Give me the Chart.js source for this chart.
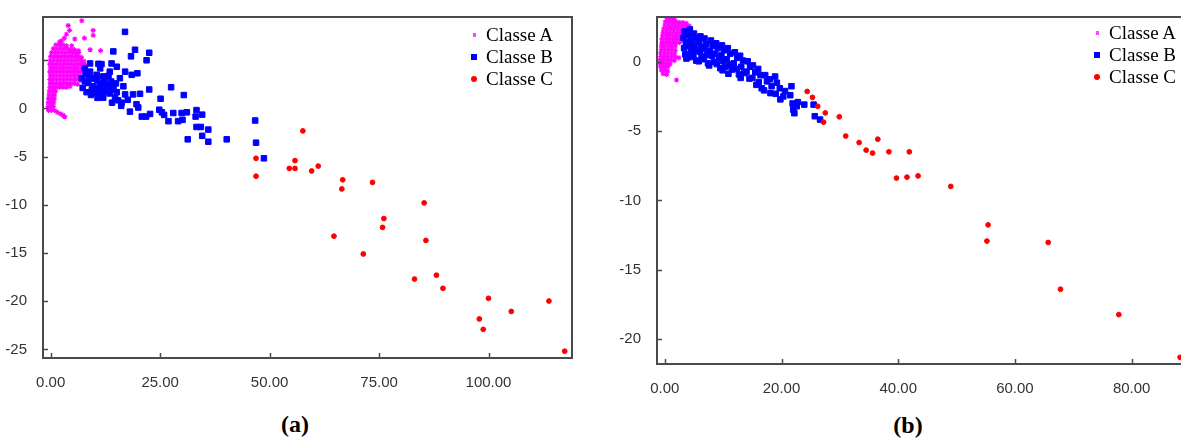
<!DOCTYPE html>
<html><head><meta charset="utf-8">
<script src="https://cdn.jsdelivr.net/npm/chart.js@4.4.1/dist/chart.umd.min.js"></script>
<style>
html,body{margin:0;padding:0;background:#fff;width:1181px;height:439px;overflow:hidden;position:relative;}
canvas{position:absolute;top:0;}
#ca{left:0;} #cb{left:600px;}
.leg{position:absolute;font-family:"Liberation Serif","Times New Roman",serif;font-size:19px;line-height:22px;color:#000;white-space:nowrap;}
.mk{position:absolute;}
.cap{position:absolute;font-family:"Liberation Serif","Times New Roman",serif;font-weight:bold;font-size:24px;line-height:24px;transform:translate(-50%,-50%);color:#000;}
</style>
</head>
<body>
<canvas id="ca" width="600" height="400"></canvas>
<canvas id="cb" width="600" height="400"></canvas>
<div id="overlay"></div>
<script>
// ---------- DATA ----------
const seriesNames = ["Classe A", "Classe B", "Classe C"];
const captions = ["(a)", "(b)"];

// chart (a) axes
const xTicksA = [0, 25, 50, 75, 100];
const xTickLabelsA = ["0.00", "25.00", "50.00", "75.00", "100.00"];
const yTicksA = [5, 0, -5, -10, -15, -20, -25];
const yTickLabelsA = ["5", "0", "-5", "-10", "-15", "-20", "-25"];

// chart (b) axes
const xTicksB = [0, 20, 40, 60, 80];
const xTickLabelsB = ["0.00", "20.00", "40.00", "60.00", "80.00"];
const yTicksB = [0, -5, -10, -15, -20];
const yTickLabelsB = ["0", "-5", "-10", "-15", "-20"];

// chart (a) series
const classA_a = [
[1.2,6.6],[2.0,6.6],[2.8,6.6],[3.6,6.5],
[0.6,6.2],[1.4,6.2],[2.2,6.2],[3.0,6.2],[3.8,6.2],[4.6,6.1],[5.4,6.1],
[0.2,5.8],[1.0,5.8],[1.8,5.8],[2.6,5.8],[3.4,5.8],[4.2,5.8],[5.0,5.8],[5.8,5.7],[6.4,5.8],
[0.0,5.4],[0.8,5.4],[1.6,5.4],[2.4,5.4],[3.2,5.4],[4.0,5.4],[4.8,5.4],[5.6,5.4],[6.3,5.4],[7.0,5.3],
[-0.1,5.0],[0.7,5.0],[1.5,5.0],[2.3,5.0],[3.1,5.0],[3.9,5.0],[4.7,5.0],[5.5,5.0],[6.2,5.0],[6.9,5.0],[7.6,4.9],
[-0.2,4.6],[0.5,4.6],[1.3,4.6],[2.1,4.6],[2.9,4.6],[3.7,4.6],[4.5,4.6],[5.3,4.6],[6.1,4.6],[6.8,4.6],[7.4,4.6],[8.0,4.5],
[-0.1,4.2],[0.6,4.2],[1.4,4.2],[2.2,4.2],[3.0,4.2],[3.8,4.2],[4.6,4.2],[5.4,4.2],[6.2,4.2],[7.0,4.2],[7.7,4.1],
[-0.2,3.8],[0.5,3.8],[1.3,3.8],[2.1,3.8],[2.9,3.8],[3.7,3.8],[4.5,3.8],[5.3,3.8],[6.1,3.8],[6.8,3.8],[7.5,3.7],
[-0.1,3.4],[0.6,3.4],[1.4,3.4],[2.2,3.4],[3.0,3.4],[3.8,3.4],[4.6,3.4],[5.4,3.4],[6.2,3.4],[6.9,3.3],[7.5,3.2],
[-0.2,3.0],[0.5,3.0],[1.3,3.0],[2.1,3.0],[2.9,3.0],[3.7,3.0],[4.5,3.0],[5.3,3.0],[6.0,3.0],[6.7,2.9],
[-0.1,2.6],[0.6,2.6],[1.4,2.6],[2.2,2.6],[3.0,2.6],[3.8,2.6],[4.6,2.6],[5.4,2.6],[6.1,2.5],
[-0.2,2.2],[0.5,2.2],[1.2,2.2],[2.0,2.2],[2.8,2.2],[3.6,2.2],[4.4,2.3],
[-0.3,1.8],[0.4,1.8],[1.1,1.8],
[-0.4,1.4],[0.3,1.4],[0.9,1.4],
[-0.5,1.0],[0.2,1.0],[0.8,1.0],
[-0.6,0.6],[0.1,0.6],[0.7,0.6],
[-0.6,0.2],[0.0,0.2],[0.6,0.2],
[-0.5,-0.2],[0.2,-0.2],[0.9,-0.2],
[1.5,-0.4],[2.2,-0.55],[2.8,-0.7],[3.2,-0.85],
[7.1,9.1],[4.0,8.6],[4.3,8.1],[5.5,7.2],[7.7,7.3],[9.7,8.1],[9.7,7.6],[9.0,6.1],[11.4,6.0],
[2.5,7.0],[3.1,7.3],[6.3,6.0],[3.6,7.7],[2.0,6.9],[4.8,6.5]
];
const classB_a = [
[16.97,7.95],[19.26,6.09],[22.5,5.78],[14.3,5.92],[18.34,5.41],[21.9,5.0],[9.0,4.67],[10.9,4.63],
[11.6,4.6],[13.9,4.67],[15.1,4.33],[17.0,3.82],[18.5,3.49],[19.8,3.65],[7.8,4.16],[13.2,3.38],
[15.8,3.14],[10.5,3.49],[14.3,2.3],[16.6,2.3],[22.5,1.97],[27.5,2.2],[30.4,1.39],[25.1,1.01],
[20.4,1.52],[18.8,1.46],[17.6,0.9],[16.2,0.6],[19.6,0.44],[20.0,0.1],[18.1,-0.33],[20.8,-0.84],
[21.8,-0.84],[22.7,-0.57],[24.8,-0.13],[25.4,-0.4],[25.9,-0.67],[26.9,-1.32],[28.0,-0.47],
[29.1,-1.32],[30.1,-1.18],[29.9,-0.47],[31.1,-0.4],[33.3,-0.17],[34.6,-0.64],[33.1,-0.84],
[33.3,-1.92],[34.3,-1.92],[34.6,-2.84],[36.0,-2.19],[36.0,-3.45],[31.3,-3.2],[40.2,-3.2],
[46.7,-1.25],[46.9,-3.55],[48.7,-5.17],
[7.1,3.14],[8.6,2.64],[7.3,2.13],[9.4,1.97],[10.1,3.14],[11.3,2.64],[12.0,1.97],[10.4,1.63],
[11.6,1.29],[12.8,2.3],[13.5,1.56],[14.7,1.12],[15.4,0.85],[13.5,3.82],[12.3,3.0],[9.0,3.82],
[7.8,2.8],[15.1,1.69],[17.0,1.46],[16.1,0.27],[9.7,2.3],[10.9,2.13],[8.2,1.69],[11.3,1.8],
[12.0,1.12],[14.3,1.97],[13.0,2.47],[12.0,3.32],[11.3,4.16],[9.7,3.1],[13.8,2.8],
[8.0,3.6],[8.8,3.2],[10.6,2.9],[11.8,2.5],[13.6,2.2],[14.9,2.6],[9.2,1.4],[10.7,1.1],[12.6,1.7],[14.0,0.6]
];
const classC_a = [
[46.9,-5.17],[46.9,-7.03],[57.6,-2.33],[55.8,-5.41],[54.5,-6.22],[55.8,-6.22],[59.6,-6.49],
[61.1,-5.98],[66.7,-7.4],[66.5,-8.35],[73.5,-7.67],[85.3,-9.8],[76.1,-11.42],[75.8,-12.34],
[64.7,-13.25],[71.4,-15.1],[85.7,-13.69],[83.1,-17.7],[88.1,-17.3],[89.6,-18.66],[100.0,-19.7],
[97.9,-21.84],[98.8,-22.92],[105.2,-21.06],[113.8,-19.98],[117.4,-25.18]
];

// chart (b) series
const classA_b = [
[0.4,3.15],[1.0,3.15],[1.6,3.1],
[0.1,2.9],[0.7,2.9],[1.3,2.9],[1.9,2.9],[2.5,2.85],[3.1,2.85],[3.7,2.8],
[0.0,2.65],[0.6,2.65],[1.2,2.65],[1.8,2.65],[2.4,2.65],[3.0,2.65],[3.6,2.6],[4.2,2.6],
[-0.2,2.4],[0.4,2.4],[1.0,2.4],[1.6,2.4],[2.2,2.4],[2.8,2.4],[3.4,2.4],[4.0,2.45],
[-0.3,2.15],[0.3,2.15],[0.9,2.15],[1.5,2.15],[2.1,2.15],[2.7,2.15],[3.3,2.1],
[-0.4,1.9],[0.2,1.9],[0.8,1.9],[1.4,1.9],[2.0,1.9],[2.6,1.9],[3.2,1.85],
[-0.5,1.65],[0.1,1.65],[0.7,1.65],[1.3,1.65],[1.9,1.65],[2.5,1.65],[3.1,1.6],
[-0.5,1.4],[0.1,1.4],[0.7,1.4],[1.3,1.4],[1.9,1.4],[2.5,1.4],
[-0.6,1.15],[0.0,1.15],[0.6,1.15],[1.2,1.15],[1.8,1.15],
[-0.6,0.9],[0.0,0.9],[0.6,0.9],[1.2,0.9],[1.8,0.85],
[-0.7,0.65],[-0.1,0.65],[0.5,0.65],[1.1,0.65],[1.7,0.6],
[-0.7,0.4],[-0.1,0.4],[0.5,0.4],[1.1,0.4],[1.8,0.35],[2.4,0.3],
[-0.8,0.15],[-0.2,0.15],[0.4,0.15],[1.0,0.15],[1.6,0.1],
[-0.8,-0.1],[-0.2,-0.1],[0.4,-0.1],[0.9,-0.15],
[-0.7,-0.35],[-0.1,-0.35],[0.5,-0.35],
[-0.6,-0.6],[0.0,-0.6],[0.5,-0.65],
[-0.3,-0.85],[0.3,-0.9],
[2.0,-1.3]
];
const classB_b = [
[3.4,2.2],[3.2,1.75],[3.6,1.4],[3.3,1.0],[3.5,0.55],[3.7,0.25],
[4.3,2.35],[4.1,1.95],[4.4,1.55],[4.2,1.15],[4.5,0.75],[4.3,0.35],
[5.0,2.05],[5.3,1.7],[5.1,1.25],[5.2,0.85],[4.9,0.45],[5.4,0.1],
[6.1,1.85],[5.9,1.5],[6.2,1.1],[6.0,0.75],[6.3,0.4],[5.8,0.05],
[6.8,1.7],[7.1,1.3],[6.9,0.95],[7.2,0.5],[6.7,0.2],[7.4,-0.1],
[7.9,1.55],[8.2,1.15],[7.7,0.8],[8.1,0.45],[8.4,0.0],[7.6,-0.25],
[8.8,1.35],[9.1,1.0],[8.6,0.6],[9.3,0.3],[8.9,-0.15],[9.5,-0.45],
[9.8,1.2],[10.2,0.85],[9.7,0.5],[10.0,0.05],[10.4,-0.35],[9.9,-0.6],
[10.8,1.0],[11.2,0.6],[10.6,0.2],[11.1,-0.2],[11.5,-0.55],[10.9,-0.85],
[12.0,0.7],[12.4,0.3],[11.8,-0.1],[12.3,-0.5],[12.7,-0.9],
[12.9,0.45],[13.4,0.1],[13.1,-0.35],[13.6,-0.8],[13.0,-1.15],
[14.2,0.05],[14.6,-0.35],[14.0,-0.7],[14.5,-1.2],
[15.1,-0.25],[15.5,-0.75],[15.0,-1.15],[15.7,-1.65],
[16.0,-0.5],[16.4,-0.95],[16.1,-1.45],[16.6,-1.9],
[17.2,-0.95],[17.5,-1.4],[17.0,-2.05],
[18.0,-1.25],[18.3,-1.75],[18.1,-2.25],
[18.9,-1.05],[19.2,-1.5],[19.0,-2.3],
[19.7,-1.9],[19.8,-2.7],[20.3,-2.49],[20.6,-2.1],
[21.7,-1.75],[21.5,-2.4],[21.9,-3.0],[22.0,-3.44],[22.2,-3.7],[22.6,-3.2],[22.8,-2.9],
[23.9,-3.08],[25.5,-3.08],[25.7,-3.92],[26.6,-4.16]
];
const classC_b = [
[24.4,-2.13],[25.3,-2.56],[26.2,-3.2],[27.5,-3.68],[27.2,-4.35],[29.9,-3.96],[31.0,-5.35],
[33.3,-5.82],[34.5,-6.37],[35.6,-6.58],[36.5,-5.58],[38.4,-6.49],[41.9,-6.49],[39.7,-8.39],
[41.5,-8.32],[43.4,-8.23],[49.0,-8.99],[55.4,-11.77],[55.2,-12.94],[65.7,-13.04],[67.8,-16.42],
[77.8,-18.25],[88.3,-21.34]
];

// ---------- STYLES ----------
const COL_A = "#ff00ff", COL_B = "#0000ff", COL_C = "#ff0000";

Chart.defaults.font.family = '"Liberation Sans", Arial, sans-serif';

const framePlugin = {
  id: 'frame',
  afterDatasetsDraw(chart) {
    const {ctx, chartArea: ca, scales} = chart;
    ctx.save();
    ctx.strokeStyle = '#4a4a4a';
    ctx.lineWidth = 2;
    ctx.strokeRect(ca.left, ca.top, ca.right - ca.left, ca.bottom - ca.top);
    ctx.lineWidth = 1.5;
    ctx.beginPath();
    scales.x.ticks.forEach(t => {
      const px = Math.round(scales.x.getPixelForValue(t.value)) + 0.5;
      ctx.moveTo(px, ca.bottom); ctx.lineTo(px, ca.bottom - 5);
    });
    scales.y.ticks.forEach(t => {
      const py = Math.round(scales.y.getPixelForValue(t.value)) + 0.5;
      ctx.moveTo(ca.left, py); ctx.lineTo(ca.left + 5, py);
    });
    ctx.stroke();
    ctx.restore();
  }
};

function toPts(arr) { return arr.map(p => ({x: p[0], y: p[1]})); }

function makeChart(id, cfg) {
  return new Chart(document.getElementById(id), {
    type: 'scatter',
    data: {
      datasets: [
        {label: seriesNames[0], data: toPts(cfg.A), pointStyle: 'star', pointRadius: 2.6, borderWidth: 1.1,
         borderColor: COL_A, backgroundColor: COL_A, order: 3},
        {label: seriesNames[1], data: toPts(cfg.B), pointStyle: 'rect', pointRadius: 3.9, borderWidth: 1,
         borderColor: COL_B, backgroundColor: COL_B, order: 2},
        {label: seriesNames[2], data: toPts(cfg.C), pointStyle: 'circle', pointRadius: 2.4, borderWidth: 1,
         borderColor: COL_C, backgroundColor: COL_C, order: 1}
      ]
    },
    options: {
      responsive: false,
      animation: false,
      events: [],
      layout: {padding: cfg.padding},
      plugins: {legend: {display: false}, tooltip: {enabled: false}},
      scales: {
        x: {
          type: 'linear', min: cfg.xmin, max: cfg.xmax,
          grid: {display: false}, border: {display: false},
          afterBuildTicks: s => { s.ticks = cfg.xTicks.map(v => ({value: v})); },
          afterFit: s => { s.height = cfg.xH; },
          ticks: {callback: (v, i) => cfg.xLabels[i], padding: 8, color: '#333', font: {size: 15},
                  maxRotation: 0, autoSkip: false}
        },
        y: {
          type: 'linear', min: cfg.ymin, max: cfg.ymax,
          grid: {display: false}, border: {display: false},
          afterBuildTicks: s => { s.ticks = cfg.yTicks.map(v => ({value: v})); },
          afterFit: s => { s.width = cfg.yW; },
          ticks: {callback: (v, i) => cfg.yLabels[i], padding: 8, color: '#333', font: {size: 15}, autoSkip: false}
        }
      }
    },
    plugins: [framePlugin]
  });
}

makeChart('ca', {
  A: classA_a, B: classB_a, C: classC_a,
  xmin: -1.76, xmax: 119.07, ymin: -25.89, ymax: 9.49,
  xTicks: xTicksA, xLabels: xTickLabelsA, yTicks: yTicksA, yLabels: yTickLabelsA,
  padding: {left: 0, top: 9, right: 28, bottom: 0}, xH: 42, yW: 43
});
makeChart('cb', {
  A: classA_b, B: classB_b, C: classC_b,
  xmin: -1.34, xmax: 90.0, ymin: -21.82, ymax: 3.25,
  xTicks: xTicksB, xLabels: xTickLabelsB, yTicks: yTicksB, yLabels: yTickLabelsB,
  padding: {left: 0, top: 13, right: 10, bottom: 0}, xH: 36, yW: 57
});

// ---------- LEGENDS & CAPTIONS (HTML text) ----------
const ov = document.getElementById('overlay');
function addLegend(mx, tx, rows) {
  const cols = [COL_A, COL_B, COL_C];
  rows.forEach((cy, i) => {
    const t = document.createElement('div');
    t.className = 'leg'; t.textContent = seriesNames[i];
    t.style.left = tx + 'px'; t.style.top = (cy - 11) + 'px';
    ov.appendChild(t);
    const m = document.createElement('div');
    m.className = 'mk';
    const sz = i === 0 ? 3 : 6;
    m.style.width = sz + 'px'; m.style.height = (i === 0 ? 4 : sz) + 'px';
    m.style.left = (mx - sz / 2) + 'px'; m.style.top = (cy - (i === 0 ? 2 : sz / 2)) + 'px';
    m.style.background = i === 0 ? '#ff44ff' : cols[i];
    if (i === 2) m.style.borderRadius = '50%';
    ov.appendChild(m);
  });
}
addLegend(474, 486, [35, 57, 79]);
addLegend(1097, 1109, [33, 55, 77]);

function addCaption(text, cx, cy) {
  const c = document.createElement('div');
  c.className = 'cap'; c.textContent = text;
  c.style.left = cx + 'px'; c.style.top = cy + 'px';
  ov.appendChild(c);
}
addCaption(captions[0], 295, 424);
addCaption(captions[1], 908, 425);
</script>
</body></html>
